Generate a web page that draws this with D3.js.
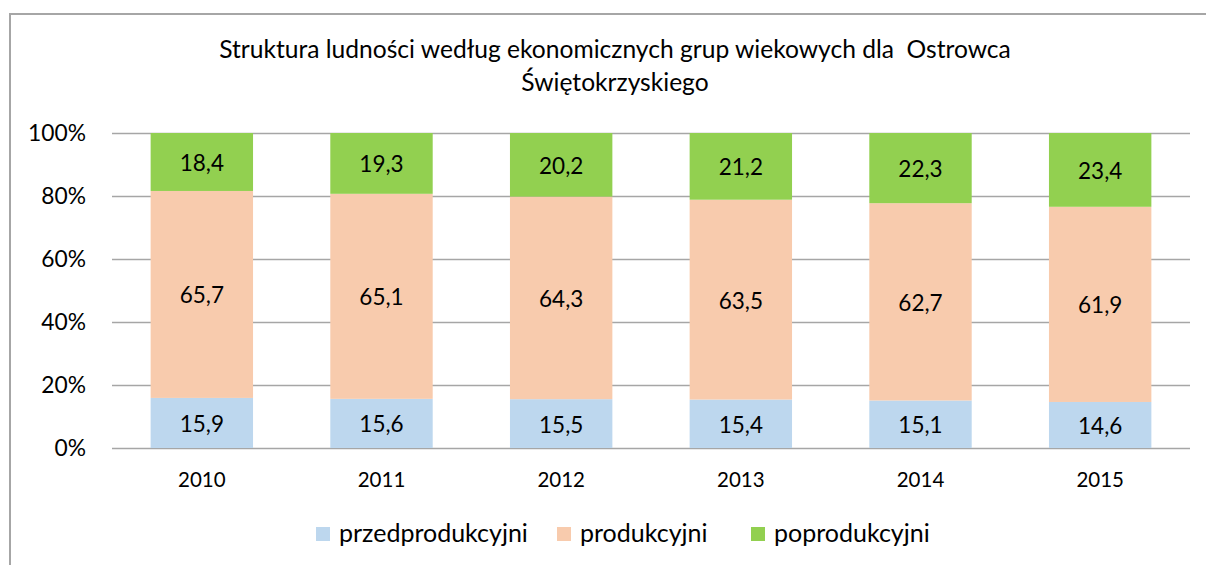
<!DOCTYPE html>
<html>
<head>
<meta charset="utf-8">
<script src="https://cdn.jsdelivr.net/npm/d3@7"></script>
<style>
  html, body { margin: 0; padding: 0; background: #fff; }
  svg { display: block; font-family: Lato, "Open Sans", sans-serif; }
</style>
</head>
<body>
<div id="chart"></div>
<script>
const years = ['2010', '2011', '2012', '2013', '2014', '2015'];
const seriesNames = ['przedprodukcyjni', 'produkcyjni', 'poprodukcyjni'];
const przedprodukcyjni = [15.9, 15.6, 15.5, 15.4, 15.1, 14.6];
const produkcyjni = [65.7, 65.1, 64.3, 63.5, 62.7, 61.9];
const poprodukcyjni = [18.4, 19.3, 20.2, 21.2, 22.3, 23.4];
const colors = ['#bdd7ee', '#f8cbad', '#92d050'];
const yTicks = [0, 0.2, 0.4, 0.6, 0.8, 1];

const width = 1206;
const height = 565;

const rows = years.map((y, i) => ({
  year: y,
  przedprodukcyjni: przedprodukcyjni[i],
  produkcyjni: produkcyjni[i],
  poprodukcyjni: poprodukcyjni[i],
}));

const svg = d3.select('#chart')
  .append('svg')
  .attr('width', width)
  .attr('height', height);

// outer frame (only left and top visible)
svg.append('path')
  .attr('d', `M10,${height} L10,14 L${width},14`)
  .attr('fill', 'none')
  .attr('stroke', '#a6a6a6')
  .attr('stroke-width', 2);

// title
const title = svg.append('text')
  .attr('text-anchor', 'middle')
  .attr('font-size', 24.6)
  .style('white-space', 'pre')
  .attr('fill', '#000');
title.append('tspan').attr('x', 615).attr('y', 58)
  .text('Struktura ludności według ekonomicznych grup wiekowych dla  Ostrowca');
title.append('tspan').attr('x', 615).attr('y', 91)
  .text('Świętokrzyskiego');

const plot = { left: 112, right: 1190, top: 133, bottom: 448 };

const x = d3.scaleBand()
  .domain(years)
  .range([plot.left, plot.right])
  .paddingInner(0.43)
  .paddingOuter(0.215);

const y = d3.scaleLinear()
  .domain([0, 1])
  .range([plot.bottom, plot.top]);

// gridlines
const grid = svg.append('g')
  .attr('transform', `translate(${plot.left},0)`)
  .call(d3.axisLeft(y).tickValues(yTicks).tickFormat('').tickSize(-(plot.right - plot.left)));
grid.select('.domain').remove();
grid.selectAll('line')
  .attr('stroke', '#a6a6a6')
  .attr('stroke-width', 1.5);

// y axis labels
const yAxis = svg.append('g')
  .attr('transform', `translate(${plot.left},0)`)
  .call(d3.axisLeft(y).tickValues(yTicks).tickFormat(d3.format('.0%')).tickSize(0).tickPadding(26));
yAxis.select('.domain').remove();
yAxis.selectAll('text')
  .attr('font-size', 22.8)
  .attr('font-family', 'Lato, sans-serif')
  .attr('fill', '#000');

// stacked bars
const stack = d3.stack()
  .keys(seriesNames)
  .offset(d3.stackOffsetExpand);
const layers = stack(rows);

const groups = svg.append('g')
  .selectAll('g')
  .data(layers)
  .join('g')
  .attr('fill', (d, i) => colors[i]);

groups.selectAll('rect')
  .data((d) => d)
  .join('rect')
  .attr('x', (d) => x(d.data.year))
  .attr('width', x.bandwidth())
  .attr('y', (d) => y(d[1]))
  .attr('height', (d) => y(d[0]) - y(d[1]));

// value labels
const fmt = (v) => String(v.toFixed(1)).replace('.', ',');
svg.append('g')
  .selectAll('g')
  .data(layers)
  .join('g')
  .selectAll('text')
  .data((layer) => layer.map((d) => ({ d, key: layer.key })))
  .join('text')
  .attr('x', (o) => x(o.d.data.year) + x.bandwidth() / 2)
  .attr('y', (o) => (y(o.d[0]) + y(o.d[1])) / 2)
  .attr('dy', '0.4em')
  .attr('text-anchor', 'middle')
  .attr('font-size', 22.5)
  .attr('fill', '#000')
  .text((o) => fmt(o.d.data[o.key]));

// x axis labels
const xAxis = svg.append('g')
  .attr('transform', `translate(0,${plot.bottom})`)
  .call(d3.axisBottom(x).tickSize(0));
xAxis.select('.domain').remove();
xAxis.selectAll('text')
  .attr('y', 39)
  .attr('dy', null)
  .attr('font-size', 20.5)
  .attr('font-family', 'Lato, sans-serif')
  .attr('fill', '#000');

// legend
const legendX = [316, 557, 751];
const legend = svg.append('g')
  .selectAll('g')
  .data(seriesNames)
  .join('g')
  .attr('transform', (d, i) => `translate(${legendX[i]},527)`);
legend.append('rect')
  .attr('width', 14)
  .attr('height', 14)
  .attr('fill', (d, i) => colors[i]);
legend.append('text')
  .attr('x', 23)
  .attr('y', 15)
  .attr('font-size', 25)
  .attr('fill', '#000')
  .text((d) => d);
</script>
</body>
</html>
